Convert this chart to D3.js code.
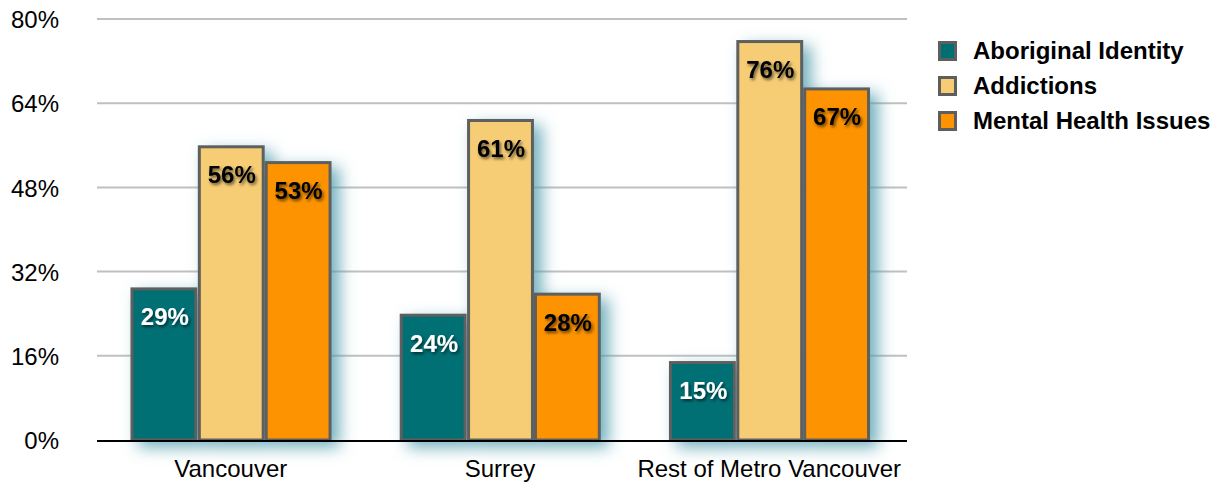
<!DOCTYPE html>
<html><head><meta charset="utf-8">
<script src="https://cdn.jsdelivr.net/npm/d3@7"></script>
<style>body{margin:0;background:#fff;} text{font-family:"Liberation Sans",Arial,sans-serif;}</style>
</head><body>
<svg id="chart" width="1217" height="485"></svg>
<script>
const categories = ["Vancouver", "Surrey", "Rest of Metro Vancouver"];
const seriesNames = ["Aboriginal Identity", "Addictions", "Mental Health Issues"];
const aboriginal = [29, 24, 15];
const addictions = [56, 61, 76];
const mental = [53, 28, 67];
const yTicks = [0, 16, 32, 48, 64, 80];
const colors = ["#006f74", "#f6cd74", "#fd9300"];
const labelColors = ["#ffffff", "#000000", "#000000"];
const series = [aboriginal, addictions, mental];

(function(){
const svg = d3.select("#chart");
const defs = svg.append("defs");
const f = defs.append("filter").attr("id","glow").attr("x","-30%").attr("y","-30%").attr("width","160%").attr("height","160%");
f.append("feDropShadow").attr("dx",8).attr("dy",6).attr("stdDeviation",8).attr("flood-color","#4f9cae").attr("flood-opacity",0.8);
const ts = defs.append("filter").attr("id","tshadow").attr("x","-20%").attr("y","-20%").attr("width","150%").attr("height","160%");
ts.append("feDropShadow").attr("dx",1.5).attr("dy",2).attr("stdDeviation",1.5).attr("flood-color","#000").attr("flood-opacity",0.6);

const mLeft = 97, mRight = 907, mTop = 19, mBottom = 440;
const y = d3.scaleLinear().domain([0, 80]).range([mBottom, mTop]);
const x0 = d3.scaleBand().domain(categories).range([mLeft - 1, mRight - 3]).paddingInner(0.255).paddingOuter(0.128);
const x1 = d3.scaleBand().domain(seriesNames).range([0, x0.bandwidth()]).padding(0.0);

svg.append("g").selectAll("line").data(yTicks.filter(t => t > 0)).join("line")
  .attr("x1", mLeft).attr("x2", mRight).attr("y1", d => y(d)).attr("y2", d => y(d))
  .attr("stroke", "#c0c0c0").attr("stroke-width", 2);

const yAxis = d3.axisLeft(y).tickValues(yTicks).tickFormat(d => d + "%").tickSize(0).tickPadding(0);
const ya = svg.append("g").attr("transform", `translate(59,0)`).call(yAxis);
ya.select(".domain").remove();
ya.selectAll("text").attr("font-size", 24).attr("fill", "#000").attr("font-family", "Liberation Sans, Arial, sans-serif").attr("dy", "0.36em");

const groups = svg.append("g").selectAll("g").data(categories).join("g")
  .attr("transform", d => `translate(${x0(d)},0)`);
const data = categories.map((c, i) => seriesNames.map((s, j) => ({c, s, j, v: series[j][i]})));
groups.each(function(c, i) {
  const g = d3.select(this);
  const gBars = g.append("g").attr("filter", "url(#glow)");
  data[i].forEach(d => {
    const bw = x1.bandwidth();
    gBars.append("rect")
      .attr("x", x1(d.s) + 1.5 + (d.j > 0 ? 0.5 : 0)).attr("width", bw - 3)
      .attr("y", y(d.v) + 1.5).attr("height", mBottom - y(d.v) - 1.5)
      .attr("fill", colors[d.j]).attr("stroke", "#5e5e5e").attr("stroke-width", 3);
  });
  data[i].forEach(d => {
    g.append("text").attr("x", x1(d.s) + x1.bandwidth() / 2 + 1).attr("y", y(d.v) + 38)
      .attr("text-anchor", "middle").attr("font-size", 24).attr("font-weight", "bold")
      .attr("fill", labelColors[d.j]).attr("filter", "url(#tshadow)")
      .text(d.v + "%");
  });
});

svg.append("line").attr("x1", mLeft).attr("x2", mRight).attr("y1", mBottom + 1).attr("y2", mBottom + 1)
  .attr("stroke", "#000").attr("stroke-width", 2);

const xAxis = d3.axisBottom(x0).tickSize(0).tickPadding(0);
const xa = svg.append("g").attr("transform", `translate(0,${mBottom + 37})`).call(xAxis);
xa.select(".domain").remove();
xa.selectAll("text").attr("font-size", 24).attr("fill", "#000").attr("font-family", "Liberation Sans, Arial, sans-serif").attr("dy", "0");

const lg = svg.append("g").attr("transform", "translate(938,41)");
seriesNames.forEach((s, j) => {
  const row = lg.append("g").attr("transform", `translate(0,${j * 35})`);
  row.append("rect").attr("x", 1.5).attr("y", 1.5).attr("width", 16).attr("height", 17)
    .attr("fill", colors[j]).attr("stroke", "#5e5e5e").attr("stroke-width", 3);
  row.append("text").attr("x", 35).attr("y", 10).attr("dy", "0.35em")
    .attr("font-size", 24).attr("font-weight", "bold").attr("fill", "#000").text(s);
});
})();
</script>
</body></html>
